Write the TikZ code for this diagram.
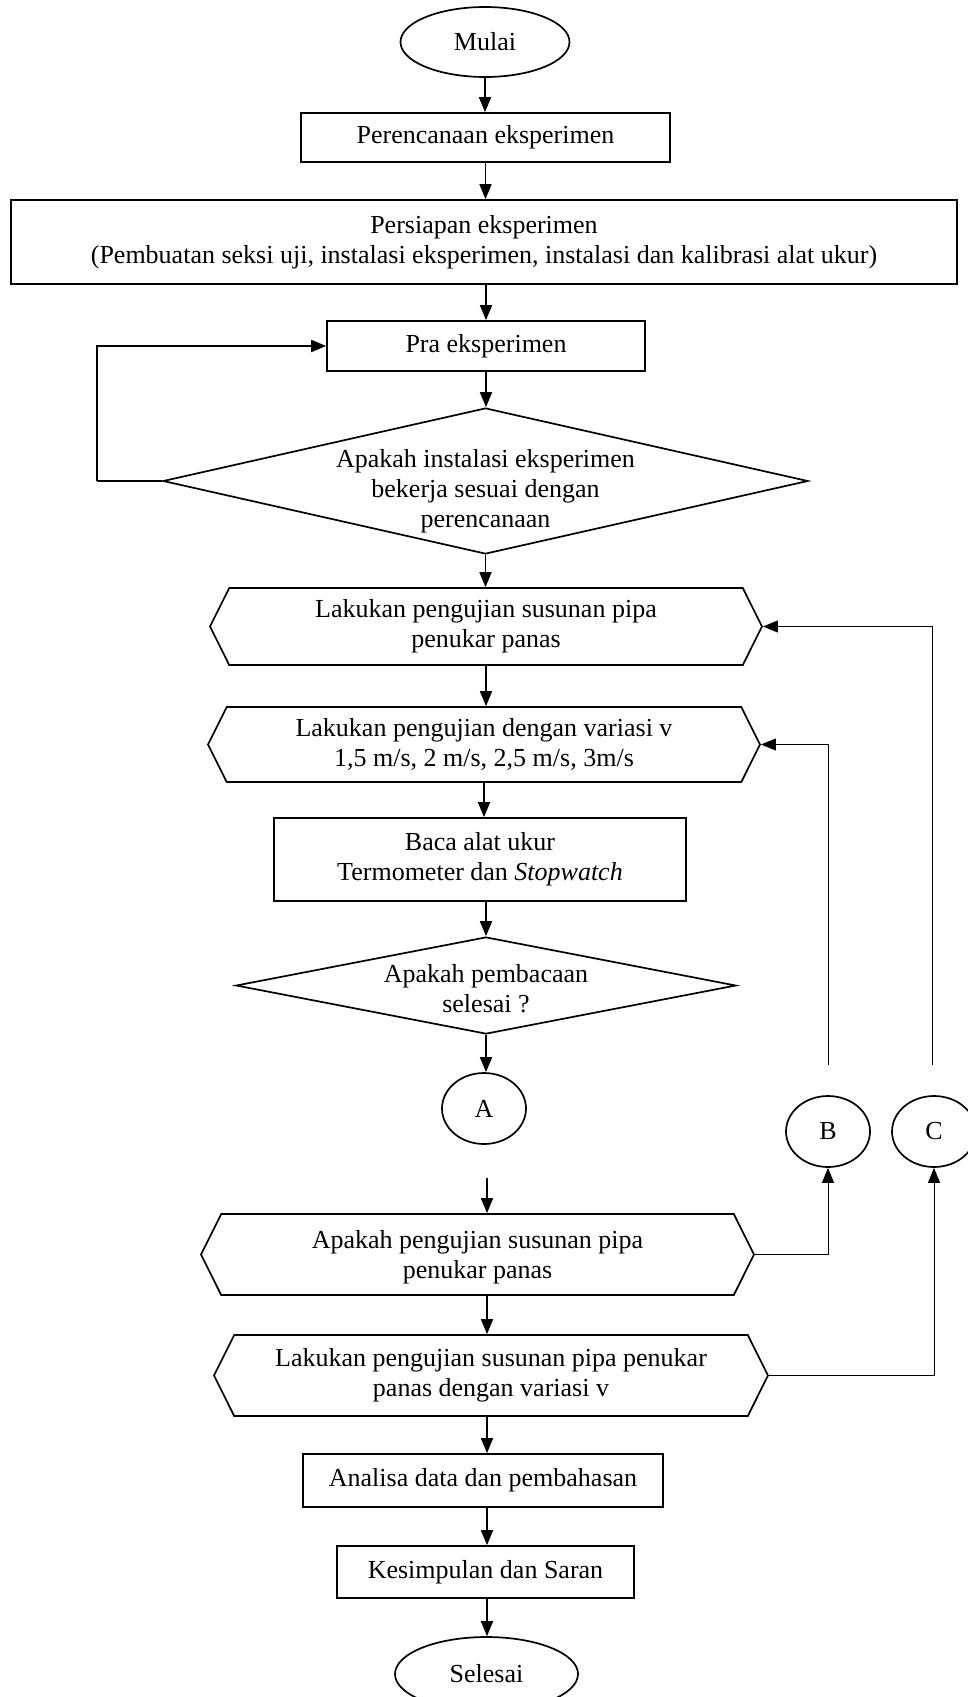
\documentclass[tikz,border=0pt]{standalone}
\usepackage{fontspec}
\setmainfont{Liberation Serif}
\usetikzlibrary{shapes.geometric,shapes.symbols,arrows.meta}
\begin{document}
\fontsize{13}{15}\selectfont
\begin{tikzpicture}[x=0.5pt, y=-0.5pt, line width=0.85pt,
    >={Triangle[length=7.5pt,width=6pt]},
    terminal/.style={draw, ellipse, inner sep=0pt},
    proses/.style={draw, rectangle, align=center, inner sep=0pt},
    keputusan/.style={draw, diamond, align=center, inner xsep=-60pt, inner ysep=-25pt},
    persiapan/.style={draw, signal, signal to=west and east, signal pointer angle=127,
        align=center, inner sep=0pt},
    penghubung/.style={draw, ellipse, minimum width=42pt, minimum height=35.5pt, inner sep=0pt},
    tipis/.style={line width=0.5pt}]
    \useasboundingbox (0,0) rectangle (968,1697);

    \node[terminal, minimum width=84.5pt, minimum height=35pt] (mulai) at (485,42) {Mulai};
    \node[proses, minimum width=184.5pt, minimum height=24.5pt] (rencana) at (485.5,137.5) {Perencanaan eksperimen};
    \node[proses, minimum width=473pt, minimum height=42pt] (siap) at (484,242)
        {Persiapan eksperimen\\(Pembuatan seksi uji, instalasi eksperimen, instalasi dan kalibrasi alat ukur)};
    \node[proses, minimum width=159pt, minimum height=25pt] (pra) at (486,346) {Pra eksperimen};
    \node[keputusan, minimum width=322.5pt, minimum height=73pt] (cek) at (485.5,481)
        {\rule{0pt}{19pt}Apakah instalasi eksperimen\\bekerja sesuai dengan\\perencanaan};
    \node[persiapan, minimum width=276pt, minimum height=38.5pt] (uji) at (486,626.5)
        {Lakukan pengujian susunan pipa\\penukar panas};
    \node[persiapan, minimum width=276pt, minimum height=37.5pt] (variasi) at (484,744.5)
        {Lakukan pengujian dengan variasi v\\1,5 m/s, 2 m/s, 2,5 m/s, 3m/s};
    \node[proses, minimum width=206pt, minimum height=41.5pt] (baca) at (480,859.5)
        {Baca alat ukur\\Termometer dan \textit{Stopwatch}};
    \node[keputusan, minimum width=250pt, minimum height=48.5pt] (selesaibaca) at (486,985.5)
        {\rule{0pt}{12.5pt}Apakah pembacaan\\selesai ?};
    \node[penghubung] (A) at (484,1108.5) {A};
    \node[penghubung] (B) at (828,1131.5) {B};
    \node[penghubung] (C) at (934,1131.5) {C};
    \node[persiapan, minimum width=276.5pt, minimum height=40.5pt] (tanya) at (477.5,1254.5)
        {\rule{0pt}{12pt}Apakah pengujian susunan pipa\\penukar panas};
    \node[persiapan, minimum width=277pt, minimum height=40.5pt] (lanjut) at (491,1375.5)
        {Lakukan pengujian susunan pipa penukar\\panas dengan variasi v};
    \node[proses, minimum width=180pt, minimum height=26.5pt] (analisa) at (483,1480.5) {Analisa data dan pembahasan};
    \node[proses, minimum width=148.5pt, minimum height=26pt] (simpul) at (485.5,1572) {Kesimpulan dan Saran};
    \node[terminal, minimum width=91.5pt, minimum height=37pt] (selesai) at (486.5,1674) {Selesai};

    \coordinate (kiri) at (97,481);
    \coordinate (bAtas) at (828,1065);
    \coordinate (cAtas) at (932,1065);
    \coordinate (aBawah) at (487,1178);

    \draw[->] (mulai.south) -- (mulai.south |- rencana.north);
    \draw[->] (rencana.south) -- (rencana.south |- siap.north);
    \draw[->] (siap.south -| pra) -- (pra);
    \draw[->] (pra) -- (pra |- cek.north);
    \draw (cek.west) -- (kiri);
    \draw[->] (kiri) |- (pra.west);
    \draw[->] (cek.south) -- (cek.south |- uji.north);
    \draw[->] (uji.south) -- (uji.south |- variasi.north);
    \draw[->] (variasi.south) -- (variasi.south |- baca.north);
    \draw[->] (baca.south -| selesaibaca) -- (selesaibaca);
    \draw[->] (selesaibaca.south) -- (selesaibaca.south |- A.north);
    \draw[->, tipis] (bAtas) |- (variasi.east);
    \draw[->, tipis] (cAtas) |- (uji.east);
    \draw[->] (aBawah) -- (aBawah |- tanya.north);
    \draw[->, tipis] (tanya.east) -| (B.south);
    \draw[->] (tanya.south -| aBawah) -- (aBawah |- lanjut.north);
    \draw[->, tipis] (lanjut.east) -| (C.south);
    \draw[->] (lanjut.south -| aBawah) -- (aBawah |- analisa.north);
    \draw[->] (analisa.south -| aBawah) -- (aBawah |- simpul.north);
    \draw[->] (simpul.south -| aBawah) -- (aBawah |- selesai.north);
\end{tikzpicture}
\end{document}
